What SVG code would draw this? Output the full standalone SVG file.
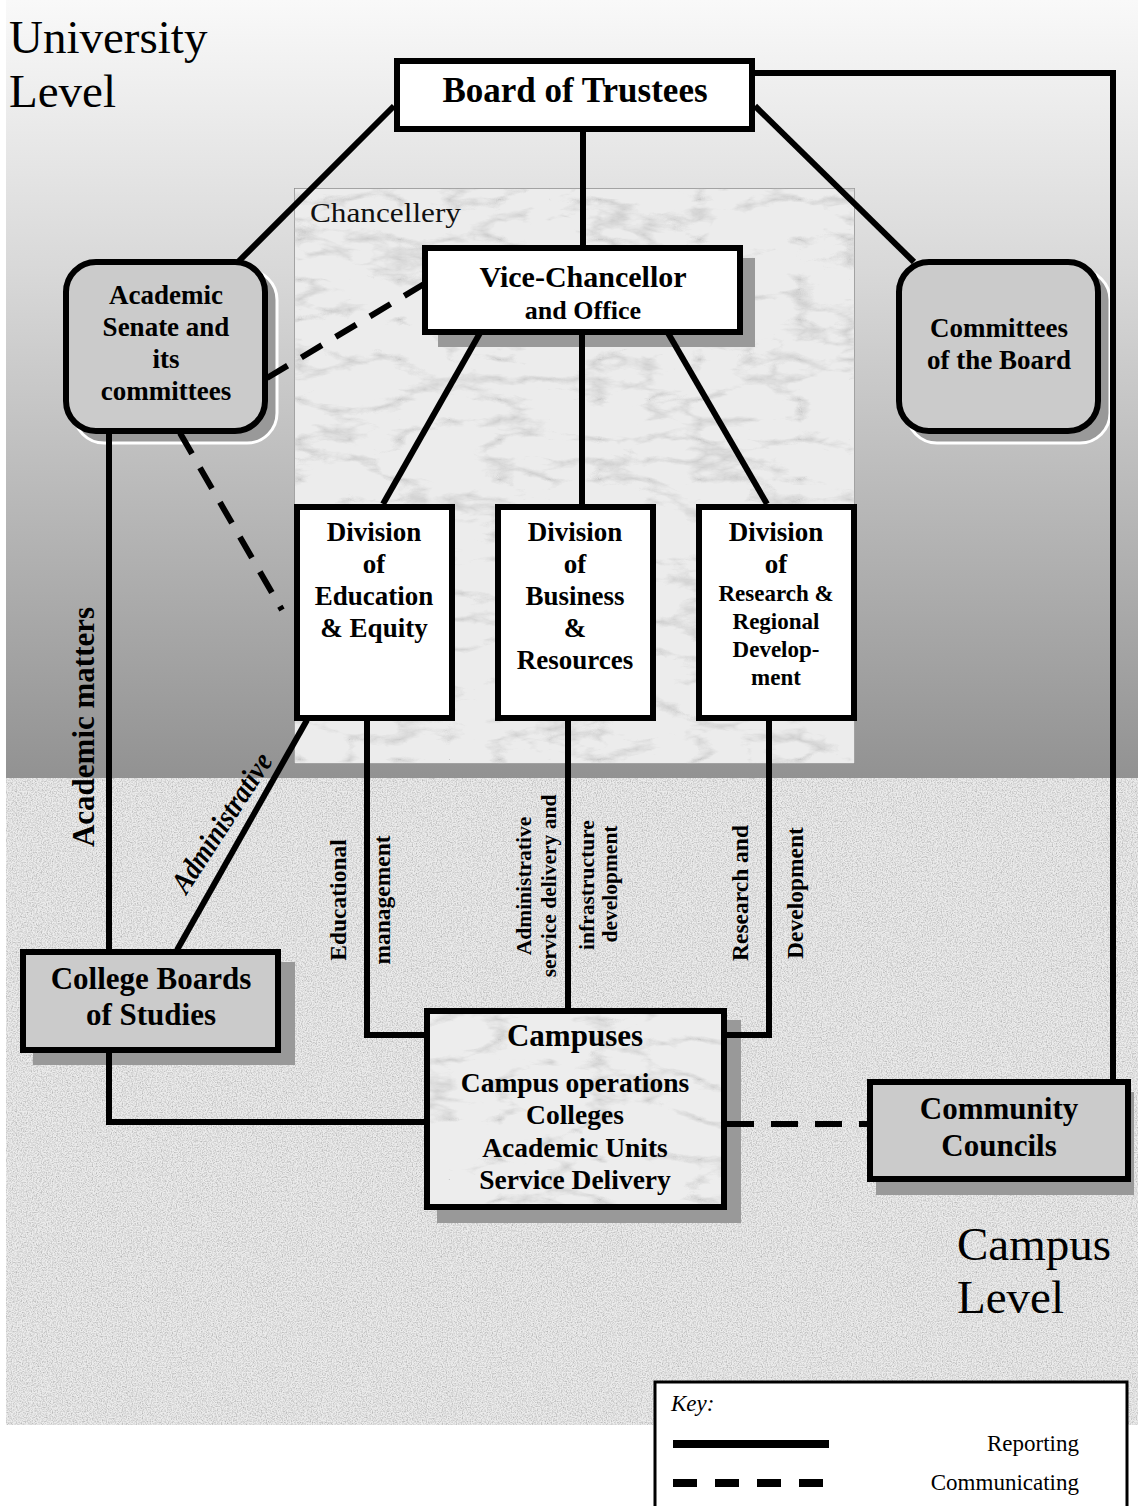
<svg xmlns="http://www.w3.org/2000/svg" width="1138" height="1506" viewBox="0 0 1138 1506">
<style>
.t{font-family:"Liberation Serif","Times New Roman",serif;font-weight:bold;fill:#000;text-anchor:middle}
.big{font-family:"Liberation Serif","Times New Roman",serif;font-size:47px;fill:#000}
.box{stroke:#000;stroke-width:6}
.wl{fill:#fff}
.gr{fill:#cbcbcb}
.sh{fill:#999}
.ln{fill:none;stroke:#000;stroke-width:6;stroke-linejoin:miter}
.dash{fill:none;stroke:#000;stroke-width:6;stroke-dasharray:24 16}
.lab{font-family:"Liberation Serif","Times New Roman",serif;font-weight:bold;fill:#000;text-anchor:middle}
.key{font-family:"Liberation Serif","Times New Roman",serif;font-size:23px;fill:#000}
</style>
<defs>
<linearGradient id="topg" x1="0" y1="0" x2="0" y2="1">
<stop offset="0" stop-color="#f9f9f9"/>
<stop offset="0.35" stop-color="#d8d8d8"/>
<stop offset="1" stop-color="#929292"/>
</linearGradient>
<filter id="noise" x="0" y="0" width="100%" height="100%">
<feTurbulence type="fractalNoise" baseFrequency="0.8" numOctaves="2" seed="4" result="n"/>
<feColorMatrix in="n" type="matrix" values="0 0 0 0 0.35  0 0 0 0 0.35  0 0 0 0 0.35  1.6 0 0 0 -0.6" result="c"/>
<feComposite in="c" in2="SourceGraphic" operator="in" result="cc"/>
<feMerge><feMergeNode in="SourceGraphic"/><feMergeNode in="cc"/></feMerge>
</filter>
<filter id="marble" x="0" y="0" width="100%" height="100%">
<feTurbulence type="turbulence" baseFrequency="0.01 0.025" numOctaves="5" seed="7" result="n"/>
<feColorMatrix in="n" type="matrix" values="0 0 0 0 0.45  0 0 0 0 0.45  0 0 0 0 0.45  -2.6 0 0 0 0.62" result="c"/>
<feComposite in="c" in2="SourceGraphic" operator="in" result="cc"/>
<feMerge><feMergeNode in="SourceGraphic"/><feMergeNode in="cc"/></feMerge>
</filter>
</defs>

<g id="background">
<rect x="0" y="0" width="1138" height="1506" fill="#fff"/>
<rect x="6" y="0" width="1132" height="778" fill="url(#topg)"/>
<rect x="6" y="778" width="1132" height="647" fill="#ececec" filter="url(#noise)"/>
<text class="big" x="9" y="53">University</text>
<text class="big" x="9" y="107">Level</text>
<text class="big" x="957" y="1260">Campus</text>
<text class="big" x="957" y="1313">Level</text>
</g>

<g id="chancellery">
<rect x="294" y="188" width="561" height="576" fill="#ececec" stroke="#8a8a8a" stroke-width="1.5" filter="url(#marble)"/>
<text x="310" y="222" style="font-family:'Liberation Serif','Times New Roman',serif;font-size:27px" textLength="151" lengthAdjust="spacingAndGlyphs" fill="#111">Chancellery</text>
</g>

<g id="shadows">
<rect x="74" y="270" width="203" height="173" rx="30" fill="#999" stroke="#fff" stroke-width="3"/>
<rect x="907" y="270" width="203" height="173" rx="30" fill="#999" stroke="#fff" stroke-width="3"/>
<rect class="sh" x="438" y="258" width="317" height="89"/>
<rect class="sh" x="33" y="962" width="262" height="103"/>
<rect class="sh" x="437" y="1020" width="304" height="203"/>
<rect class="sh" x="876" y="1092" width="258" height="103"/>
</g>

<g id="connectors">
<path class="ln" d="M394,106 L238,262"/>
<path class="ln" d="M755,106 L914,262"/>
<path class="ln" d="M755,73 H1113 V1080"/>
<path class="ln" d="M583,131 V246"/>
<path class="ln" d="M480,333 L383,504"/>
<path class="ln" d="M582,333 V504"/>
<path class="ln" d="M668,333 L767,504"/>
<path class="dash" d="M267,378 L424,284"/>
<path class="dash" d="M180,433 L282,610"/>
<path class="ln" d="M109,433 V950"/>
<path class="ln" d="M109,1052 V1122 H424"/>
<path class="ln" d="M307,720 L177,950"/>
<path class="ln" d="M367,720 V1035 H424"/>
<path class="ln" d="M568,720 V1008"/>
<path class="ln" d="M769,720 V1035 H727"/>
<path class="dash" d="M727,1124 H868" style="stroke-dasharray:27 17"/>
</g>

<g id="connector-labels">
<text class="lab" font-size="31" transform="translate(94,727) rotate(-90)">Academic matters</text>
<text class="lab" font-size="30" font-style="italic" textLength="160" lengthAdjust="spacingAndGlyphs" transform="translate(230,828) rotate(-57)">Administrative</text>
<text class="lab" font-size="23.5" transform="translate(346,900) rotate(-90)">Educational</text>
<text class="lab" font-size="23.5" transform="translate(390,900) rotate(-90)">management</text>
<text class="lab" font-size="21.5" transform="translate(531,886) rotate(-90)">Administrative</text>
<text class="lab" font-size="21.5" transform="translate(556,886) rotate(-90)">service delivery and</text>
<text class="lab" font-size="21.5" transform="translate(594,885) rotate(-90)">infrastructure</text>
<text class="lab" font-size="21.5" transform="translate(617,884) rotate(-90)">development</text>
<text class="lab" font-size="23.5" transform="translate(748,893) rotate(-90)">Research and</text>
<text class="lab" font-size="23.5" transform="translate(803,893) rotate(-90)">Development</text>
</g>

<g id="board">
<rect class="box wl" x="397" y="61" width="355" height="68"/>
<text class="t" x="575" y="102" font-size="35">Board of Trustees</text>
</g>

<g id="senate">
<rect class="box gr" x="66" y="262" width="199" height="169" rx="30"/>
<text class="t" font-size="27" x="166" y="304">Academic</text>
<text class="t" font-size="27" x="166" y="336">Senate and</text>
<text class="t" font-size="27" x="166" y="368">its</text>
<text class="t" font-size="27" x="166" y="400">committees</text>
</g>

<g id="committees">
<rect class="box gr" x="899" y="262" width="199" height="169" rx="30"/>
<text class="t" font-size="27" x="999" y="337">Committees</text>
<text class="t" font-size="27" x="999" y="369">of the Board</text>
</g>

<g id="vice-chancellor">
<rect class="box wl" x="425" y="248" width="315" height="84"/>
<text class="t" font-size="30" x="583" y="287">Vice-Chancellor</text>
<text class="t" font-size="26" x="583" y="319">and Office</text>
</g>

<g id="div-education">
<rect class="box wl" x="297" y="507" width="155" height="211"/>
<text class="t" font-size="27" x="374" y="541">Division</text>
<text class="t" font-size="27" x="374" y="573">of</text>
<text class="t" font-size="27" x="374" y="605">Education</text>
<text class="t" font-size="27" x="374" y="637">&amp; Equity</text>
</g>

<g id="div-business">
<rect class="box wl" x="498" y="507" width="155" height="211"/>
<text class="t" font-size="27" x="575" y="541">Division</text>
<text class="t" font-size="27" x="575" y="573">of</text>
<text class="t" font-size="27" x="575" y="605">Business</text>
<text class="t" font-size="27" x="575" y="637">&amp;</text>
<text class="t" font-size="27" x="575" y="669">Resources</text>
</g>

<g id="div-research">
<rect class="box wl" x="699" y="507" width="155" height="211"/>
<text class="t" font-size="27" x="776" y="541">Division</text>
<text class="t" font-size="27" x="776" y="573">of</text>
<text class="t" font-size="23" x="776" y="601">Research &amp;</text>
<text class="t" font-size="23" x="776" y="629">Regional</text>
<text class="t" font-size="23" x="776" y="657">Develop-</text>
<text class="t" font-size="23" x="776" y="685">ment</text>
</g>

<g id="college-boards">
<rect class="box gr" x="23" y="952" width="255" height="98"/>
<text class="t" font-size="31" x="151" y="989">College Boards</text>
<text class="t" font-size="31" x="151" y="1025">of Studies</text>
</g>

<g id="campuses">
<rect x="427" y="1011" width="297" height="196" fill="#ededed" filter="url(#marble)"/>
<rect x="427" y="1011" width="297" height="196" fill="none" stroke="#000" stroke-width="6"/>
<text class="t" font-size="31" x="575" y="1046">Campuses</text>
<text class="t" font-size="27.5" x="575" y="1092">Campus operations</text>
<text class="t" font-size="27.5" x="575" y="1124">Colleges</text>
<text class="t" font-size="27.5" x="575" y="1157">Academic Units</text>
<text class="t" font-size="27.5" x="575" y="1189">Service Delivery</text>
</g>

<g id="community-councils">
<rect class="box gr" x="870" y="1082" width="258" height="97"/>
<text class="t" font-size="31" x="999" y="1119">Community</text>
<text class="t" font-size="31" x="999" y="1156">Councils</text>
</g>

<g id="key">
<rect x="655" y="1382" width="472" height="130" fill="#fff" stroke="#000" stroke-width="3"/>
<text class="key" x="671" y="1411" font-style="italic" font-size="22">Key:</text>
<line x1="673" y1="1444" x2="829" y2="1444" stroke="#000" stroke-width="8"/>
<line x1="673" y1="1483" x2="829" y2="1483" stroke="#000" stroke-width="8" stroke-dasharray="24 18"/>
<text class="key" x="1079" y="1451" text-anchor="end">Reporting</text>
<text class="key" x="1079" y="1490" text-anchor="end" font-size="24">Communicating</text>
</g>
</svg>
